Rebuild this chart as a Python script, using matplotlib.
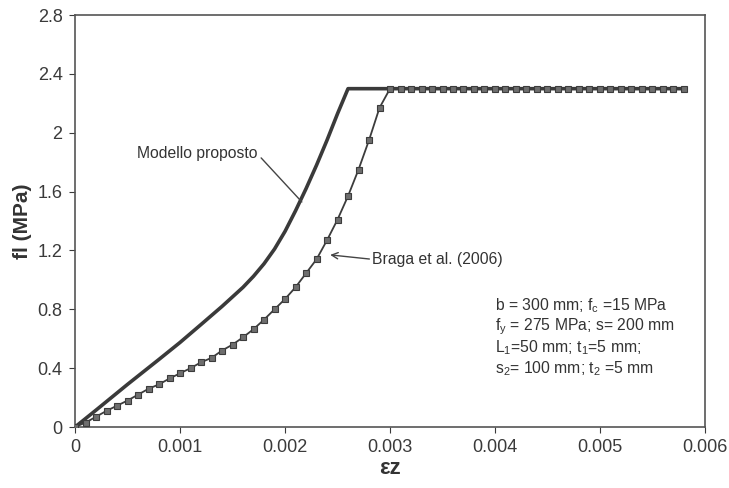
import matplotlib.pyplot as plt
import numpy as np

plt.rcParams['font.family'] = ['Liberation Sans', 'DejaVu Sans']

# Modello proposto
eps_model = [0, 0.0002, 0.0005, 0.0008, 0.001, 0.0012, 0.0014, 0.0016, 0.0017, 0.0018,
             0.0019, 0.002, 0.0021, 0.0022, 0.0023, 0.0024, 0.0025, 0.0026, 0.0058]
fl_model = [0, 0.115, 0.29, 0.46, 0.575, 0.697, 0.82, 0.95, 1.025, 1.11,
            1.21, 1.33, 1.47, 1.62, 1.78, 1.95, 2.13, 2.30, 2.30]

# Braga et al. (2006), one marker every 0.0001
eps_braga = [0.0000, 0.0001, 0.0002, 0.0003, 0.0004, 0.0005, 0.0006, 0.0007, 0.0008, 0.0009,
             0.0010, 0.0011, 0.0012, 0.0013, 0.0014, 0.0015, 0.0016, 0.0017, 0.0018, 0.0019,
             0.0020, 0.0021, 0.0022, 0.0023, 0.0024, 0.0025, 0.0026, 0.0027, 0.0028, 0.0029,
             0.0030, 0.0031, 0.0032, 0.0033, 0.0034, 0.0035, 0.0036, 0.0037, 0.0038, 0.0039,
             0.0040, 0.0041, 0.0042, 0.0043, 0.0044, 0.0045, 0.0046, 0.0047, 0.0048, 0.0049,
             0.0050, 0.0051, 0.0052, 0.0053, 0.0054, 0.0055, 0.0056, 0.0057, 0.0058]
fl_braga = [0.00, 0.03, 0.07, 0.11, 0.145, 0.18, 0.22, 0.26, 0.29, 0.33,
            0.365, 0.40, 0.44, 0.47, 0.52, 0.56, 0.61, 0.665, 0.73, 0.80,
            0.87, 0.95, 1.045, 1.14, 1.27, 1.41, 1.57, 1.75, 1.95, 2.17,
            2.30, 2.30, 2.30, 2.30, 2.30, 2.30, 2.30, 2.30, 2.30, 2.30,
            2.30, 2.30, 2.30, 2.30, 2.30, 2.30, 2.30, 2.30, 2.30, 2.30,
            2.30, 2.30, 2.30, 2.30, 2.30, 2.30, 2.30, 2.30, 2.30]

xticks = [0, 0.001, 0.002, 0.003, 0.004, 0.005, 0.006]
xticklabels = ['0', '0.001', '0.002', '0.003', '0.004', '0.005', '0.006']
yticks = [0, 0.4, 0.8, 1.2, 1.6, 2.0, 2.4, 2.8]
yticklabels = ['0', '0.4', '0.8', '1.2', '1.6', '2', '2.4', '2.8']

fig = plt.figure(figsize=(7.29, 4.88), dpi=100)
ax = fig.add_axes([0.103, 0.125, 0.864, 0.844])

ax.plot(eps_braga, fl_braga, color='#3c3c3c', lw=1.3, marker='s', ms=5,
        mfc='#6e6e6e', mec='#3c3c3c', mew=0.8, zorder=3)
ax.plot(eps_model, fl_model, color='#3a3a3a', lw=2.6, zorder=2)

ax.set_xlim(0, 0.006)
ax.set_ylim(0, 2.8)
ax.set_xticks(xticks)
ax.set_xticklabels(xticklabels)
ax.set_yticks(yticks)
ax.set_yticklabels(yticklabels)
ax.tick_params(direction='out', length=4, labelsize=13, colors='#3a3a3a', pad=5)
for s in ax.spines.values():
    s.set_color('#555555')
    s.set_linewidth(1.2)

ax.set_xlabel('εz', fontsize=16, fontweight='bold', color='#333333', labelpad=1)
ax.set_ylabel('fl (MPa)', fontsize=15, fontweight='bold', color='#333333', labelpad=4)

# curve labels
ax.annotate('Modello proposto', xy=(0.00216, 1.53), xytext=(0.00059, 1.86),
            fontsize=11.3, color='#333333', va='center',
            arrowprops=dict(arrowstyle='-', color='#444444', lw=1,
                            shrinkA=0, shrinkB=0, relpos=(1.03, 0.2)))
ax.annotate('Braga et al. (2006)', xy=(0.00243, 1.17), xytext=(0.00283, 1.14),
            fontsize=11.3, color='#333333', va='center',
            arrowprops=dict(arrowstyle='->', color='#444444', lw=1,
                            shrinkA=0, shrinkB=0, relpos=(0.0, 0.5)))

params = ('b = 300 mm; f$_\\mathregular{c}$ =15 MPa\n'
          'f$_\\mathregular{y}$ = 275 MPa; s= 200 mm\n'
          'L$_\\mathregular{1}$=50 mm; t$_\\mathregular{1}$=5 mm;\n'
          's$_\\mathregular{2}$= 100 mm; t$_\\mathregular{2}$ =5 mm')
ax.text(0.00400, 0.89, params, fontsize=11.3, color='#333333', va='top',
        linespacing=1.12)

fig.savefig('out.png', dpi=100)
